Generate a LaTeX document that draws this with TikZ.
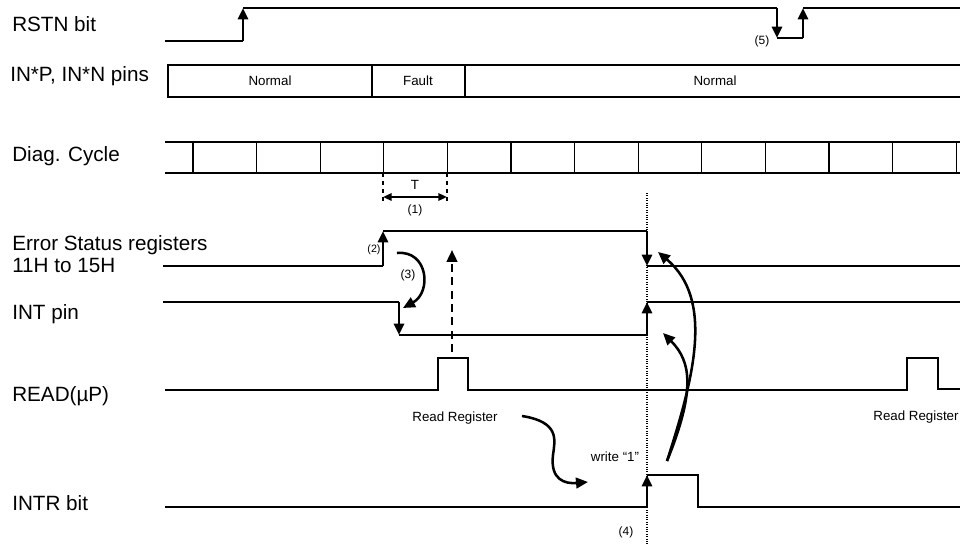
\documentclass[tikz,border=0pt]{standalone}
\usepackage{fontspec}
\setmainfont{Liberation Sans}
\usetikzlibrary{arrows.meta}
\begin{document}
\begin{tikzpicture}[x=0.75pt,y=-0.75pt,
  sig/.style={line width=0.85pt},
  edgearrow/.style={line width=2pt,-{Triangle[length=8.5pt,width=7.5pt]}},
  biglabel/.style={font=\fontsize{15.5}{17}\selectfont, anchor=base west, inner sep=0pt},
  smalllabel/.style={font=\fontsize{10}{12}\selectfont, inner sep=0pt},
  tinylabel/.style={font=\fontsize{9}{10}\selectfont, inner sep=0pt},
  curvearrow/.style={line width=1.9pt,-{Triangle[length=9pt,width=8pt]}}]
\useasboundingbox (0,0) rectangle (960,545);

% left labels
\node[biglabel] (lrstn) at (12,32) {RSTN bit};
\node[biglabel] (lpins) at (10,82) {IN*P, IN*N pins};
\node[biglabel] (ldiag) at (12,162) {Diag. Cycle};
\node[biglabel] (lerr1) at (12,251) {Error Status registers};
\node[biglabel] (lerr2) at (12,273) {11H to 15H};
\node[biglabel] (lint) at (12,320) {INT pin};
\node[biglabel] (lread) at (12,401) {READ(µP)};
\node[biglabel] (lintr) at (12,510) {INTR bit};

% RSTN bit
\draw[sig] (165,41) -- (243,41);
\draw[edgearrow] (243,41) -- (243,8);
\draw[sig] (243,8) -- (777,8);
\draw[edgearrow] (777,8) -- (777,38);
\draw[sig] (777,38) -- (803,38);
\draw[edgearrow] (803,38) -- (803,8);
\draw[sig] (803,8) -- (961,8);
\node[tinylabel] (l5) at (762,41) {(5)};

% IN*P, IN*N pins
\draw[sig] (168,65) rectangle (963,97);
\draw[sig] (372,65) -- (372,97);
\draw[sig] (465,65) -- (465,97);
\node[smalllabel] (n1) at (270,81) {Normal};
\node[smalllabel] (f1) at (418,81) {Fault};
\node[smalllabel] (n2) at (715,81) {Normal};

% Diag cycle
\draw[sig] (165,142) -- (961,142);
\draw[sig] (165,173) -- (961,173);
\foreach \k in {0,...,12} {
  \draw[sig] ({193+63.6*\k},142) -- ({193+63.6*\k},173);
}
\draw[dashed, line width=1.6pt] (383,173) -- (383,201);
\draw[dashed, line width=1.6pt] (447,173) -- (447,201);
\draw[line width=1.6pt, {Triangle[length=6.5pt,width=5.5pt]}-{Triangle[length=6.5pt,width=5.5pt]}] (383,197) -- (447,197);
\node[smalllabel] (lT) at (415,185) {T};
\node[tinylabel] (l1) at (415,210) {(1)};

% dotted reference line
\draw[densely dotted, line width=0.8pt] (647,193) -- (647,545);

% Error status registers
\draw[sig] (163,266) -- (383,266);
\draw[edgearrow] (383,266) -- (383,231);
\draw[sig] (383,231) -- (647,231);
\draw[edgearrow] (647,231) -- (647,266);
\draw[sig] (647,266) -- (961,266);
\node[font=\fontsize{8}{9}\selectfont, inner sep=0pt] (l2) at (374,250) {(2)};

% INT pin
\draw[sig] (163,302) -- (399,302);
\draw[edgearrow] (399,302) -- (399,335);
\draw[sig] (399,335) -- (647,335);
\draw[edgearrow] (647,335) -- (647,302);
\draw[sig] (647,302) -- (961,302);
\node[tinylabel] (l3) at (408,275) {(3)};
\draw[curvearrow] (397,253) .. controls (428,250) and (432,292) .. (403,308);

% READ
\draw[sig] (165,390) -- (438,390) -- (438,358) -- (468,358) -- (468,390) -- (907,390) -- (907,358) -- (938,358) -- (938,389) -- (961,389);
\draw[line width=1.8pt, dash pattern=on 6pt off 4pt, -{Triangle[length=9pt,width=8pt]}] (452,352) -- (452,250);
\node[smalllabel] (rr1) at (455,418) {Read Register};
\node[smalllabel] (rr2) at (916,417) {Read Register};

% INTR bit
\draw[sig] (165,507) -- (647,507);
\draw[edgearrow] (647,507) -- (647,475);
\draw[sig] (647,475) -- (698,475) -- (698,507) -- (961,507);
\node[smalllabel] (w1) at (615,457) {write “1”};
\node[tinylabel] (l4) at (626,532) {(4)};

% curved arrows
\draw[curvearrow] (522,416) .. controls (560,422) and (555,440) .. (553,455) .. controls (550,480) and (565,484) .. (588,482);
\draw[curvearrow] (667,461) .. controls (693,380) and (715,300) .. (658,252);
\draw[curvearrow] (667,461) .. controls (695,392) and (692,362) .. (663,333);
\end{tikzpicture}
\end{document}
